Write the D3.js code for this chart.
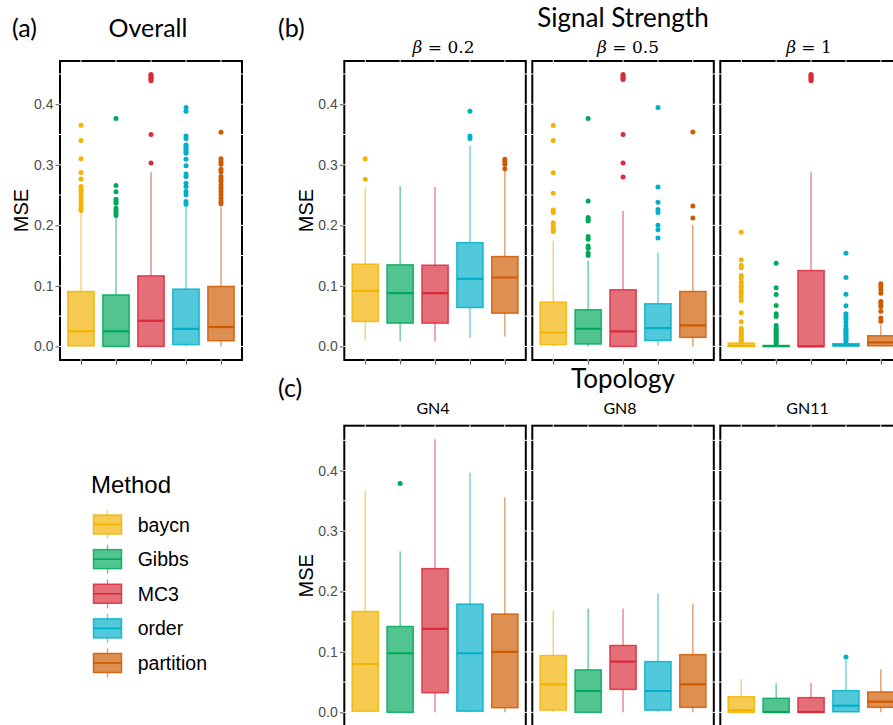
<!DOCTYPE html>
<html><head><meta charset="utf-8">
<script src="https://cdn.jsdelivr.net/npm/d3@7"></script>
<style>body{margin:0;background:#fff} svg{display:block}</style>
</head><body><svg id="chart" width="893" height="725"></svg>
<script>
// ---------------- DATA ----------------
const methods = ["baycn", "Gibbs", "MC3", "order", "partition"];
const methodColors = ["#F3B300", "#00A85A", "#D92B3A", "#00B0CA", "#CF5A00"];
const yTickValues = [0, 0.1, 0.2, 0.3, 0.4];
const strengthValues = ["0.2", "0.5", "1"];
const topologyLabels = ["GN4", "GN8", "GN11"];

// box stats per method: [lower whisker, q1, median, q3, upper whisker]
const overallStats = [
  [0, 0.001, 0.025, 0.0907, 0.222],
  [0, 0.000, 0.025, 0.085, 0.213],
  [0, 0.000, 0.0424, 0.1165, 0.2875],
  [0, 0.003, 0.029, 0.0946, 0.231],
  [0, 0.0094, 0.032, 0.099, 0.231]
];
const overallOutliers = [
  [0.3654, 0.340, 0.3101, 0.2871, 0.2767, 0.2641, 0.2597, 0.2559, 0.2504, 0.2449, 0.2394, 0.2339, 0.2284, 0.2246],
  [0.3764, 0.2657, 0.2553, 0.2432, 0.2399, 0.2366, 0.2284, 0.224, 0.2201, 0.2163],
  [0.449, 0.447, 0.445, 0.443, 0.441, 0.439, 0.350, 0.3029],
  [0.3946, 0.3886, 0.3474, 0.3436, 0.3326, 0.3299, 0.3271, 0.3244, 0.3216, 0.319, 0.309, 0.2986, 0.2849, 0.2805, 0.2695, 0.264, 0.2559, 0.2504, 0.2394, 0.235],
  [0.3539, 0.3101, 0.3052, 0.3008, 0.2925, 0.2886, 0.2805, 0.2761, 0.2723, 0.2668, 0.2613, 0.2559, 0.2504, 0.2449, 0.2394, 0.2356]
];

const beta02Stats = [
  [0.010, 0.0412, 0.0918, 0.1358, 0.263],
  [0.0083, 0.0385, 0.088, 0.1347, 0.265],
  [0.0083, 0.0385, 0.088, 0.1341, 0.263],
  [0.0138, 0.0643, 0.1116, 0.1714, 0.331],
  [0.0165, 0.055, 0.1138, 0.1484, 0.290]
];
const beta02Outliers = [
  [0.310, 0.276],
  [],
  [],
  [0.3886, 0.3474, 0.3436],
  [0.309, 0.305, 0.301, 0.2935]
];

const beta05Stats = [
  [0, 0.003, 0.023, 0.0731, 0.1747],
  [0, 0.004, 0.0292, 0.0605, 0.1413],
  [0, 0.000, 0.0248, 0.0935, 0.2237],
  [0.001, 0.0099, 0.0303, 0.0704, 0.155],
  [0, 0.0149, 0.0347, 0.0907, 0.2006]
];
const beta05Outliers = [
  [0.365, 0.340, 0.287, 0.2528, 0.2253, 0.2214, 0.2044, 0.198, 0.1935, 0.19],
  [0.3765, 0.240, 0.213, 0.21, 0.207, 0.1815, 0.177, 0.166, 0.162, 0.1545, 0.150],
  [0.449, 0.447, 0.445, 0.443, 0.441, 0.350, 0.3028, 0.280],
  [0.3946, 0.2632, 0.238, 0.226, 0.221, 0.2, 0.1925, 0.179],
  [0.354, 0.232, 0.212]
];

const beta1Stats = [
  [0, 0.000, 0.001, 0.0055, 0.007],
  [0, 0.000, 0.0005, 0.0015, 0.003],
  [0, 0.000, 0.000, 0.1253, 0.2875],
  [0, 0.0007, 0.002, 0.0045, 0.006],
  [0, 0.001, 0.0066, 0.0176, 0.036]
];
const beta1Outliers = [
  [0.1886, 0.1433, 0.134, 0.130, 0.117, 0.113, 0.106, 0.1, 0.0968, 0.0913, 0.087, 0.0815, 0.076, 0.0554, 0.0406, 0.0296, 0.027, 0.024, 0.0214, 0.0187, 0.016, 0.0132, 0.0104, 0.0077],
  [0.1374, 0.0968, 0.0858, 0.0677, 0.054, 0.0495, 0.0347, 0.0296, 0.027, 0.024, 0.0214, 0.0187, 0.016, 0.0132, 0.0104, 0.0077, 0.0049],
  [0.449, 0.447, 0.445, 0.443, 0.441, 0.439],
  [0.1539, 0.1137, 0.0863, 0.0671, 0.054, 0.0495, 0.0457, 0.0403, 0.0347, 0.0296, 0.027, 0.024, 0.0214, 0.0187, 0.016, 0.0132, 0.0104, 0.0077],
  [0.1033, 0.099, 0.0935, 0.088, 0.0743, 0.0705, 0.066, 0.0579, 0.0469, 0.0414]
];

const gn4Stats = [
  [0, 0.002, 0.080, 0.1668, 0.367],
  [0, 0.000, 0.0978, 0.142, 0.2664],
  [0, 0.0326, 0.138, 0.2377, 0.4516],
  [0, 0.002, 0.0978, 0.179, 0.3963],
  [0, 0.0077, 0.100, 0.1625, 0.356]
];
const gn4Outliers = [[], [0.3786], [], [], []];

const gn8Stats = [
  [0, 0.0038, 0.0464, 0.0939, 0.1685],
  [0, 0.000, 0.0353, 0.0702, 0.1719],
  [0, 0.038, 0.0839, 0.1105, 0.1719],
  [0.001, 0.0038, 0.0353, 0.0839, 0.197],
  [0, 0.0083, 0.0464, 0.0955, 0.1796]
];
const gn8Outliers = [[], [], [], [], []];

const gn11Stats = [
  [0, 0.000, 0.0038, 0.0259, 0.0552],
  [0, 0.000, 0.0005, 0.0232, 0.048],
  [0, 0.000, 0.0005, 0.0243, 0.048],
  [0, 0.001, 0.011, 0.0359, 0.0868],
  [0, 0.0083, 0.0176, 0.0337, 0.0713]
];
const gn11Outliers = [[], [], [], [0.0917], []];

// ---------------- DRAW ----------------
const svg = d3.select("#chart");
const titleFont = "Lato, 'Open Sans', sans-serif";
const axisFont = "'Liberation Sans', Arial, sans-serif";

function expandedDomain(statsList, outList) {
  const vals = [];
  statsList.forEach(s => s.forEach(r => r.forEach(v => vals.push(v))));
  outList.forEach(o => o.forEach(r => r.forEach(v => vals.push(v))));
  const [lo, hi] = d3.extent(vals);
  const pad = (hi - lo) * 0.05;
  return [lo - pad, hi + pad];
}

const rowTopAB = 61, rowBotAB = 360;
const rowTopC = 425.7, rowBotC = 726;
const yAB = d3.scaleLinear()
  .domain(expandedDomain([overallStats, beta02Stats, beta05Stats, beta1Stats],
                         [overallOutliers, beta02Outliers, beta05Outliers, beta1Outliers]))
  .range([rowBotAB, rowTopAB]);
const yC = d3.scaleLinear()
  .domain(expandedDomain([gn4Stats, gn8Stats, gn11Stats], [gn4Outliers, gn8Outliers, gn11Outliers]))
  .range([rowBotC, rowTopC]);

function drawPanel(x0, w, y, stats, outliers, showY) {
  const g = svg.append("g");
  const top = y.range()[1], bot = y.range()[0];
  const x = d3.scalePoint().domain(methods).range([x0, x0 + w]).padding(0.6);
  const bw = x.step() * 0.75;

  // clip to panel
  const cid = "clip" + Math.round(x0) + "_" + Math.round(top);
  svg.append("clipPath").attr("id", cid).append("rect")
    .attr("x", x0).attr("y", top).attr("width", w).attr("height", bot - top);
  const inner = g.append("g").attr("clip-path", `url(#${cid})`);

  methods.forEach((m, i) => {
    const c = methodColors[i];
    const [lo, q1, med, q3, hi] = stats[i];
    const cx = x(m);
    const bg = inner.append("g");
    bg.append("line").attr("x1", cx).attr("x2", cx).attr("y1", y(hi)).attr("y2", y(q3))
      .attr("stroke", c).attr("stroke-opacity", 0.6).attr("stroke-width", 1.4);
    bg.append("line").attr("x1", cx).attr("x2", cx).attr("y1", y(q1)).attr("y2", y(lo))
      .attr("stroke", c).attr("stroke-opacity", 0.6).attr("stroke-width", 1.4);
    bg.selectAll("circle.o").data(outliers[i]).enter().append("circle")
      .attr("cx", cx).attr("cy", d => y(d)).attr("r", 2.5).attr("fill", c);
    bg.append("rect").attr("x", cx - bw / 2).attr("width", bw)
      .attr("y", y(q3)).attr("height", Math.max(0, y(q1) - y(q3)))
      .attr("fill", c).attr("fill-opacity", 0.68)
      .attr("stroke", c).attr("stroke-opacity", 0.85).attr("stroke-width", 1.5);
    bg.append("line").attr("x1", cx - bw / 2).attr("x2", cx + bw / 2)
      .attr("y1", y(med)).attr("y2", y(med))
      .attr("stroke", c).attr("stroke-width", 2.2);
  });

  // frame
  g.append("rect").attr("x", x0).attr("y", top).attr("width", w).attr("height", bot - top)
    .attr("fill", "none").attr("stroke", "#000").attr("stroke-width", 2);

  // white notches on frame (grid positions)
  const minor = [0.05, 0.15, 0.25, 0.35, 0.45];
  yTickValues.concat(minor).forEach(v => {
    [x0, x0 + w].forEach(xx => {
      g.append("line").attr("x1", xx - 1.2).attr("x2", xx + 1.2).attr("y1", y(v)).attr("y2", y(v))
        .attr("stroke", "#fff").attr("stroke-width", 1);
    });
  });
  methods.forEach(m => {
    [top, bot].forEach(yy => {
      g.append("line").attr("x1", x(m)).attr("x2", x(m)).attr("y1", yy - 1.2).attr("y2", yy + 1.2)
        .attr("stroke", "#fff").attr("stroke-width", 1);
    });
  });

  // bottom ticks
  const xAxis = d3.axisBottom(x).tickSize(3.5).tickFormat("");
  const xa = g.append("g").attr("transform", `translate(0,${bot + 1})`).call(xAxis);
  xa.select(".domain").remove();
  xa.selectAll("line").attr("stroke", "#555");

  if (showY) {
    const yAxis = d3.axisLeft(y).tickValues(yTickValues).tickSize(3.5).tickPadding(2)
      .tickFormat(d3.format(".1f"));
    const ya = g.append("g").attr("transform", `translate(${x0 - 1},0)`).call(yAxis);
    ya.select(".domain").remove();
    ya.selectAll("line").attr("stroke", "#555");
    ya.selectAll("text").attr("font-family", axisFont).attr("font-size", 14).attr("fill", "#4d4d4d");
  }
  return x;
}

// (a) overall
drawPanel(60, 182, yAB, overallStats, overallOutliers, true);
// (b) signal strength
const facetX = [344.3, 532.3, 720.3];
const facetW = 181.5;
[[beta02Stats, beta02Outliers], [beta05Stats, beta05Outliers], [beta1Stats, beta1Outliers]]
  .forEach((p, i) => drawPanel(facetX[i], facetW, yAB, p[0], p[1], i === 0));
// (c) topology
[[gn4Stats, gn4Outliers], [gn8Stats, gn8Outliers], [gn11Stats, gn11Outliers]]
  .forEach((p, i) => drawPanel(facetX[i], facetW, yC, p[0], p[1], i === 0));

// axis titles
function yTitle(xb, yc) {
  svg.append("text").attr("transform", `translate(${xb},${yc}) rotate(-90)`)
    .attr("text-anchor", "middle").attr("font-family", axisFont).attr("font-size", 20)
    .attr("fill", "#000").text("MSE");
}
yTitle(28, (rowTopAB + rowBotAB) / 2);
yTitle(312.5, (rowTopAB + rowBotAB) / 2);
yTitle(312.5, (rowTopC + rowBotC) / 2);

// titles
function ttl(x, y, txt, size, anchor) {
  svg.append("text").attr("x", x).attr("y", y).attr("text-anchor", anchor || "middle")
    .attr("font-family", titleFont).attr("font-size", size).attr("fill", "#000").text(txt);
}
ttl(12, 37, "(a)", 25, "start");
ttl(148, 37, "Overall", 25);
ttl(278, 37, "(b)", 25, "start");
ttl(623, 27, "Signal Strength", 26);
ttl(278, 397, "(c)", 25, "start");
ttl(623, 388, "Topology", 26);

// strength facet labels
const stripX = [443.5, 628, 809];
strengthValues.forEach((v, i) => {
  const t = svg.append("text").attr("x", stripX[i]).attr("y", 53).attr("text-anchor", "middle")
    .attr("font-family", "'DejaVu Serif', serif").attr("font-size", 17).attr("fill", "#000");
  t.append("tspan").attr("font-style", "italic").text("β");
  t.append("tspan").text(" = " + v);
});
// topology facet labels
const topoX = [433, 620, 807.5];
topologyLabels.forEach((v, i) => ttl(topoX[i], 414, v, 16));

// legend
svg.append("text").attr("x", 91).attr("y", 493).attr("font-family", axisFont)
  .attr("font-size", 24).attr("fill", "#000").text("Method");
const legY = d3.scalePoint().domain(methods).range([524.5, 663]);
methods.forEach((m, i) => {
  const c = methodColors[i], cy = legY(m), cx = 107.5;
  svg.append("line").attr("x1", cx).attr("x2", cx).attr("y1", cy - 14.5).attr("y2", cy + 14.5)
    .attr("stroke", c).attr("stroke-opacity", 0.6).attr("stroke-width", 1.4);
  svg.append("rect").attr("x", cx - 14).attr("y", cy - 9.5).attr("width", 28).attr("height", 19)
    .attr("fill", "#fff");
  svg.append("rect").attr("x", cx - 14).attr("y", cy - 9.5).attr("width", 28).attr("height", 19)
    .attr("fill", c).attr("fill-opacity", 0.68).attr("stroke", c).attr("stroke-opacity", 0.85)
    .attr("stroke-width", 1.5);
  svg.append("line").attr("x1", cx - 14).attr("x2", cx + 14).attr("y1", cy).attr("y2", cy)
    .attr("stroke", c).attr("stroke-width", 1.6);
  svg.append("text").attr("x", 137.7).attr("y", cy + 7).attr("font-family", axisFont)
    .attr("font-size", 19.5).attr("fill", "#000").text(m);
});
</script></body></html>
